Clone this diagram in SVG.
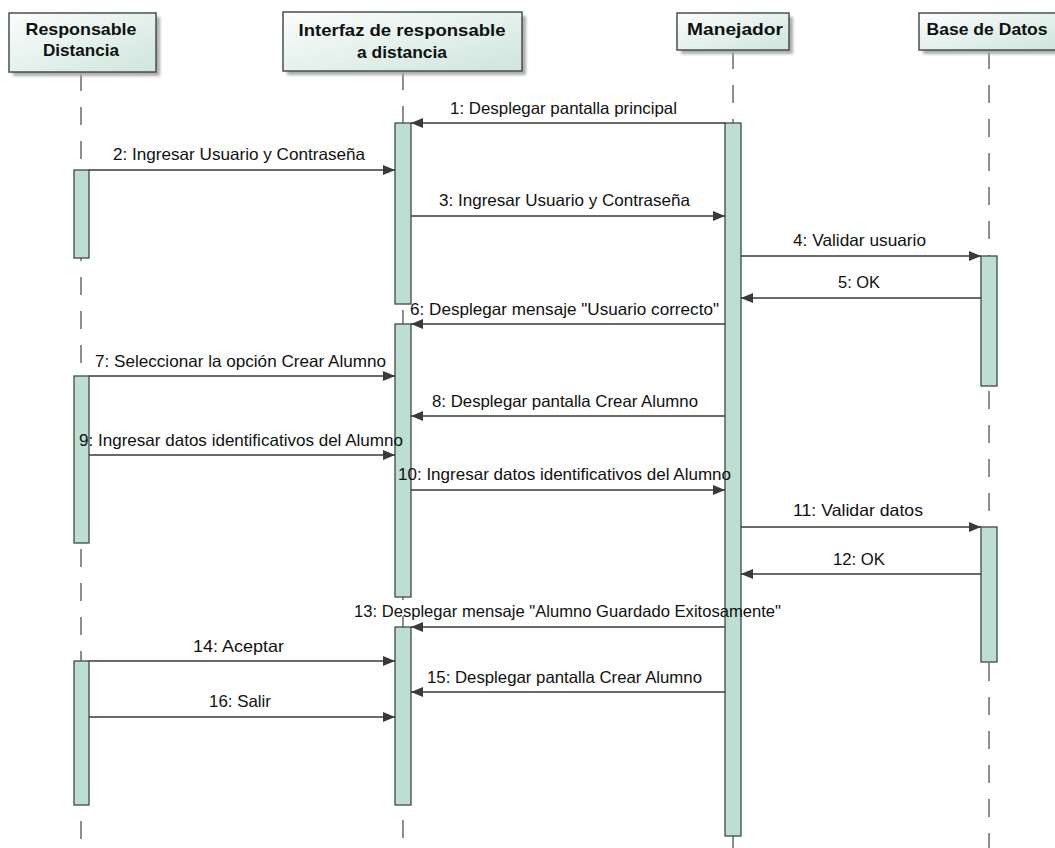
<svg xmlns="http://www.w3.org/2000/svg" width="1055" height="848" viewBox="0 0 1055 848">
  <defs>
    <linearGradient id="hdrFill" x1="0" y1="0" x2="1" y2="1">
      <stop offset="0" stop-color="#fbfdfc"/>
      <stop offset="1" stop-color="#cfe5dc"/>
    </linearGradient>
    <filter id="soft" x="-10%" y="-10%" width="130%" height="140%">
      <feGaussianBlur stdDeviation="1.5"/>
    </filter>
    <marker id="arrow" viewBox="0 0 12 10" refX="12" refY="5" markerWidth="12" markerHeight="10" markerUnits="userSpaceOnUse" orient="auto">
      <path d="M0,0 L12,5 L0,10 Z" fill="#3a3a3a"/>
    </marker>
  </defs>
  <style>
    .hdr { fill: url(#hdrFill); stroke: #4a4f4d; stroke-width: 1.5; }
    .shadow { fill: #a9adab; filter: url(#soft); }
    .hdrText { font-family: "Liberation Sans", Arial, sans-serif; font-weight: bold; font-size: 17px; fill: #111; }
    .life { stroke: #444; stroke-width: 1.2; stroke-dasharray: 18 16; fill: none; }
    .act { fill: #bcdfd1; stroke: #3e4a45; stroke-width: 1.3; }
    .msg { stroke: #3a3a3a; stroke-width: 1.5; fill: none; marker-end: url(#arrow); }
    .lbl { font-family: "Liberation Sans", Arial, sans-serif; font-size: 16.5px; fill: #111; }
  </style>
  <rect width="1055" height="848" fill="#ffffff"/>

  <!-- lifelines -->
  <g id="lifelines">
    <line class="life" x1="81" y1="73" x2="81" y2="848"/>
    <line class="life" x1="403" y1="72" x2="403" y2="848"/>
    <line class="life" x1="733" y1="51" x2="733" y2="848"/>
    <line class="life" x1="989" y1="51" x2="989" y2="848"/>
  </g>

  <!-- participants -->
  <g id="responsable-distancia">
    <rect class="shadow" x="13" y="17" width="147" height="59"/>
    <rect class="hdr" x="9" y="13" width="147" height="59"/>
    <text class="hdrText" x="81" y="35" text-anchor="middle" textLength="111" lengthAdjust="spacingAndGlyphs">Responsable</text>
    <text class="hdrText" x="81" y="56" text-anchor="middle" textLength="76" lengthAdjust="spacingAndGlyphs">Distancia</text>
    <rect class="act" x="74" y="170" width="15" height="88"/>
    <rect class="act" x="74" y="376" width="15" height="167"/>
    <rect class="act" x="74" y="661" width="15" height="144"/>
  </g>

  <g id="interfaz-responsable">
    <rect class="shadow" x="287" y="16" width="239" height="59"/>
    <rect class="hdr" x="283" y="12" width="239" height="59"/>
    <text class="hdrText" x="402" y="36" text-anchor="middle" textLength="207" lengthAdjust="spacingAndGlyphs">Interfaz de responsable</text>
    <text class="hdrText" x="402" y="58" text-anchor="middle" textLength="90" lengthAdjust="spacingAndGlyphs">a distancia</text>
    <rect class="act" x="395" y="123" width="16" height="181"/>
    <rect class="act" x="395" y="324" width="16" height="273"/>
    <rect class="act" x="395" y="627" width="16" height="178"/>
  </g>

  <g id="manejador">
    <rect class="shadow" x="681" y="17" width="112" height="37"/>
    <rect class="hdr" x="677" y="13" width="112" height="37"/>
    <text class="hdrText" x="735" y="35" text-anchor="middle" textLength="96" lengthAdjust="spacingAndGlyphs">Manejador</text>
    <rect class="act" x="725" y="123" width="16" height="713"/>
  </g>

  <g id="base-de-datos">
    <rect class="shadow" x="923" y="17" width="140" height="37"/>
    <rect class="hdr" x="919" y="13" width="140" height="37"/>
    <text class="hdrText" x="987" y="35" text-anchor="middle" textLength="121" lengthAdjust="spacingAndGlyphs">Base de Datos</text>
    <rect class="act" x="981" y="256" width="16" height="130"/>
    <rect class="act" x="981" y="527" width="16" height="135"/>
  </g>

  <!-- messages -->
  <g id="connectors">
    <line class="msg" x1="725" y1="123" x2="411" y2="123"/>
    <line class="msg" x1="89" y1="170" x2="395" y2="170"/>
    <line class="msg" x1="411" y1="216" x2="725" y2="216"/>
    <line class="msg" x1="741" y1="256" x2="981" y2="256"/>
    <line class="msg" x1="981" y1="298" x2="741" y2="298"/>
    <line class="msg" x1="725" y1="324" x2="411" y2="324"/>
    <line class="msg" x1="89" y1="376" x2="395" y2="376"/>
    <line class="msg" x1="725" y1="416" x2="411" y2="416"/>
    <line class="msg" x1="89" y1="455" x2="395" y2="455"/>
    <line class="msg" x1="411" y1="490" x2="725" y2="490"/>
    <line class="msg" x1="741" y1="527" x2="981" y2="527"/>
    <line class="msg" x1="981" y1="574" x2="741" y2="574"/>
    <line class="msg" x1="725" y1="627" x2="411" y2="627"/>
    <line class="msg" x1="89" y1="661" x2="395" y2="661"/>
    <line class="msg" x1="725" y1="692" x2="411" y2="692"/>
    <line class="msg" x1="89" y1="717" x2="395" y2="717"/>
  </g>

  <g id="labels">
    <text class="lbl" x="450" y="114" textLength="227" lengthAdjust="spacingAndGlyphs">1: Desplegar pantalla principal</text>
    <text class="lbl" x="113" y="160" textLength="252" lengthAdjust="spacingAndGlyphs">2: Ingresar Usuario y Contraseña</text>
    <text class="lbl" x="439" y="206" textLength="251" lengthAdjust="spacingAndGlyphs">3: Ingresar Usuario y Contraseña</text>
    <text class="lbl" x="793" y="246" textLength="133" lengthAdjust="spacingAndGlyphs">4: Validar usuario</text>
    <text class="lbl" x="838" y="288" textLength="42" lengthAdjust="spacingAndGlyphs">5: OK</text>
    <text class="lbl" x="410" y="315" textLength="309" lengthAdjust="spacingAndGlyphs">6: Desplegar mensaje "Usuario correcto"</text>
    <text class="lbl" x="95" y="367" textLength="291" lengthAdjust="spacingAndGlyphs">7: Seleccionar la opción Crear Alumno</text>
    <text class="lbl" x="432" y="407" textLength="266" lengthAdjust="spacingAndGlyphs">8: Desplegar pantalla Crear Alumno</text>
    <text class="lbl" x="79" y="446" textLength="324" lengthAdjust="spacingAndGlyphs">9: Ingresar datos identificativos del Alumno</text>
    <text class="lbl" x="398" y="480" textLength="333" lengthAdjust="spacingAndGlyphs">10: Ingresar datos identificativos del Alumno</text>
    <text class="lbl" x="793" y="516" textLength="130" lengthAdjust="spacingAndGlyphs">11: Validar datos</text>
    <text class="lbl" x="833" y="565" textLength="52" lengthAdjust="spacingAndGlyphs">12: OK</text>
    <text class="lbl" x="354" y="617" textLength="427" lengthAdjust="spacingAndGlyphs">13: Desplegar mensaje "Alumno Guardado Exitosamente"</text>
    <text class="lbl" x="193" y="652" textLength="91" lengthAdjust="spacingAndGlyphs">14: Aceptar</text>
    <text class="lbl" x="427" y="683" textLength="275" lengthAdjust="spacingAndGlyphs">15: Desplegar pantalla Crear Alumno</text>
    <text class="lbl" x="209" y="707" textLength="62" lengthAdjust="spacingAndGlyphs">16: Salir</text>
  </g>
</svg>
